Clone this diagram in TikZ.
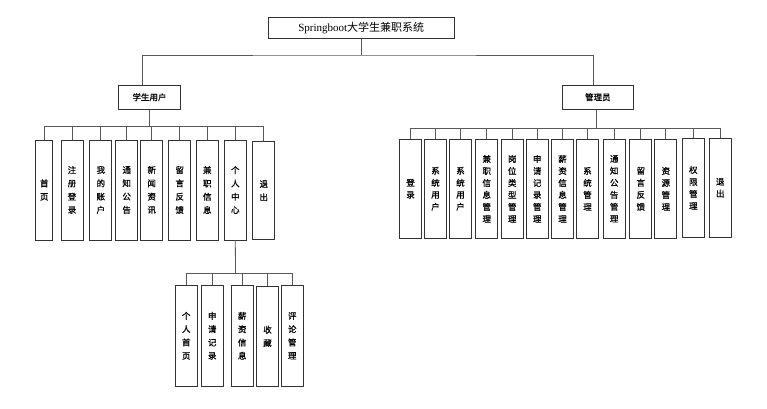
\documentclass[tikz,border=0pt]{standalone}
\usepackage{fontspec}
\setmainfont{Liberation Serif}
\newfontfamily\cjk{Noto Sans CJK SC}
\newfontfamily\cjkb[FakeBold=0.8]{Noto Sans CJK SC}
\begin{document}
\begin{tikzpicture}[x=1pt,y=-1pt,
  frame/.style={draw=black!80,line width=0.8pt,inner sep=0pt},
  topbox/.style={frame,minimum height=24pt,font=\cjkb\fontsize{8.5}{10}\selectfont},
  sbox/.style={frame,minimum width=22pt,minimum height=100pt,align=center,font=\cjkb\fontsize{8.5}{13.3}\selectfont},
  abox/.style={frame,minimum width=22pt,minimum height=99.5pt,align=center,font=\cjkb\fontsize{8.5}{12}\selectfont},
  conn/.style={draw=black!65,line width=0.8pt}]
\useasboundingbox (0,0) rectangle (767,408);

% top level
\node[frame,minimum width=186pt,minimum height=21pt,font=\fontsize{11}{13}\selectfont] (title) at (361.2,27.8) {Springboot{\cjk 大学生兼职系统}};
\node[topbox,minimum width=62pt] (stu) at (149.5,97.2) {学生用户};
\node[topbox,minimum width=71pt] (adm) at (597.8,97.2) {管理员};

\coordinate (tb) at (361.2,55);
\draw[conn] (title.south) -- (tb);
\draw[conn] ([xshift=-7.2pt]stu.north) |- (tb) -| ([xshift=-4.5pt]adm.north);

% student children
\node[sbox,minimum width=17pt] (s1) at (44.2,190) {首\\页};
\node[sbox] (s2) at (72,190) {注\\册\\登\\录};
\node[sbox] (s3) at (100.8,190) {我\\的\\账\\户};
\node[sbox] (s4) at (126.7,190) {通\\知\\公\\告};
\node[sbox] (s5) at (151.7,190) {新\\闻\\资\\讯};
\node[sbox] (s6) at (179.7,190) {留\\言\\反\\馈};
\node[sbox] (s7) at (207.3,190) {兼\\职\\信\\息};
\node[sbox] (s8) at (235.3,190) {个\\人\\中\\心};
\node[sbox,minimum height=98pt] (s9) at (263.7,190.8) {退\\出};

\coordinate (sb) at (149.5,126.5);
\draw[conn] (stu.south) -- (sb);
\foreach \n in {s1,s2,s3,s4,s5,s6,s7,s8,s9}
  \draw[conn] (\n.north) |- (sb);

% admin children
\node[abox] (a1) at (410.5,188.8) {登\\录};
\node[abox] (a2) at (435.5,188.8) {系\\统\\用\\户};
\node[abox] (a3) at (460.5,188.8) {系\\统\\用\\户};
\node[abox] (a4) at (486.7,188.8) {兼\\职\\信\\息\\管\\理};
\node[abox] (a5) at (512.2,188.8) {岗\\位\\类\\型\\管\\理};
\node[abox] (a6) at (537.2,188.8) {申\\请\\记\\录\\管\\理};
\node[abox] (a7) at (562.5,188.8) {薪\\资\\信\\息\\管\\理};
\node[abox] (a8) at (587.5,188.8) {系\\统\\管\\理};
\node[abox] (a9) at (614.2,188.8) {通\\知\\公\\告\\管\\理};
\node[abox] (a10) at (640.8,188.8) {留\\言\\反\\馈};
\node[abox] (a11) at (665.8,188.8) {资\\源\\管\\理};
\node[abox] (a12) at (693.3,187.8) {权\\限\\管\\理};
\node[abox] (a13) at (720.2,187.8) {退\\出};

\coordinate (ab) at (596,128.3);
\draw[conn] ([xshift=-1.8pt]adm.south) -- (ab);
\foreach \n in {a1,a2,a3,a4,a5,a6,a7,a8,a9,a10,a11,a12,a13}
  \draw[conn] (\n.north) |- (ab);

% personal center children
\node[sbox,minimum height=100.5pt] (p1) at (186.2,335.8) {个\\人\\首\\页};
\node[sbox,minimum height=100.5pt] (p2) at (212.2,335.8) {申\\请\\记\\录};
\node[sbox,minimum height=100.5pt] (p3) at (242.2,335.8) {薪\\资\\信\\息};
\node[sbox,minimum height=100.5pt] (p4) at (267.5,336.3) {收\\藏};
\node[sbox,minimum height=100.5pt] (p5) at (292.2,335.8) {评\\论\\管\\理};

\coordinate (pb) at (235.5,273.5);
\draw[conn] (s8.south) -- (pb);
\foreach \n in {p1,p2,p3,p4,p5}
  \draw[conn] (\n.north) |- (pb);
\end{tikzpicture}
\end{document}
